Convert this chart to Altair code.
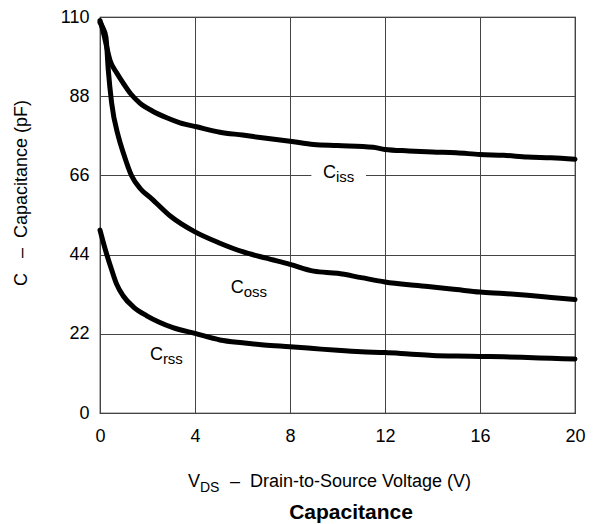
import altair as alt
import pandas as pd

FONT = "Liberation Sans"
NB = "\u00a0"

ciss_v = [0, 0.1, 0.21, 0.42, 0.7, 0.98, 1.3, 1.68, 2.2, 2.81, 3.37, 4.07, 5.05, 6, 7, 8, 9, 10, 11.5, 12, 13, 14, 15, 16, 17, 18, 19, 20]
ciss_c = [109, 106.8, 103.8, 98, 94.5, 91.6, 88.6, 86.1, 83.9, 82.0, 80.6, 79.5, 78.0, 77.2, 76.3, 75.5, 74.6, 74.3, 73.8, 73.2, 72.8, 72.5, 72.3, 71.8, 71.6, 71.1, 70.9, 70.5]

coss_v = [0, 0.12, 0.25, 0.35, 0.49, 0.77, 0.98, 1.33, 1.7, 2.18, 3, 4, 5, 6, 7, 8, 9, 10, 11, 12, 13, 14, 15, 16, 17, 18, 19, 20]
coss_c = [108.5, 107, 104.4, 95.2, 86.1, 76.9, 72.3, 65.9, 62.3, 59.5, 54.5, 50.3, 47.3, 44.8, 43.0, 41.3, 39.4, 38.8, 37.6, 36.4, 35.6, 35.0, 34.3, 33.6, 33.2, 32.7, 32.1, 31.5]

crss_v = [0, 0.25, 0.49, 0.7, 0.98, 1.4, 1.97, 2.5, 3.07, 4, 5.05, 6, 6.9, 8, 9, 10, 11, 12, 13, 14, 15, 16, 17, 18, 19, 20]
crss_c = [50.8, 44.8, 39.8, 35.8, 32.5, 29.5, 27.0, 25.2, 23.7, 22.1, 20.3, 19.5, 18.9, 18.4, 17.9, 17.4, 17.0, 16.8, 16.4, 16.0, 15.8, 15.7, 15.6, 15.4, 15.2, 15.0]

x_ticks = [0, 4, 8, 12, 16, 20]
y_ticks = [0, 22, 44, 66, 88, 110]

rows = []
for name, vs, cs in [("Ciss", ciss_v, ciss_c), ("Coss", coss_v, coss_c), ("Crss", crss_v, crss_c)]:
    for v, c in zip(vs, cs):
        rows.append({"series": name, "V": v, "C": c})
df = pd.DataFrame(rows)

xscale = alt.Scale(domain=[0, 20], nice=False, zero=False)
yscale = alt.Scale(domain=[0, 110], nice=False, zero=False)

x_enc = alt.X("V:Q", scale=xscale, title=None,
              axis=alt.Axis(values=x_ticks, grid=True, gridColor="#444", gridWidth=1,
                            ticks=False, domain=False, labelFont=FONT, labelFontSize=18,
                            labelColor="black", labelPadding=14, labelFlush=False))
y_enc = alt.Y("C:Q", scale=yscale, title=None,
              axis=alt.Axis(values=y_ticks, grid=True, gridColor="#444", gridWidth=1,
                            ticks=False, domain=False, labelFont=FONT, labelFontSize=18,
                            labelColor="black", labelPadding=11, labelFlush=False))

lines = alt.Chart(df).mark_line(color="black", strokeWidth=5, strokeCap="round",
                                strokeJoin="round", interpolate="monotone").encode(
    x=x_enc, y=y_enc, detail="series:N")

one = pd.DataFrame({"k": [0]})

gap = alt.Chart(one).mark_rect(color="white").encode(
    x=alt.X(datum=8.9, type="quantitative", scale=xscale),
    x2=alt.X2(datum=11.2),
    y=alt.Y(datum=63.8, type="quantitative", scale=yscale),
    y2=alt.Y2(datum=68.0),
)

labels = [("C", "iss", 9.39, 65.2), ("C", "oss", 5.5, 33.4), ("C", "rss", 2.1, 14.6)]
label_layers = []
for main, sub, lx, ly in labels:
    label_layers.append(alt.Chart(one).mark_text(
        text=main, font=FONT, fontSize=18, align="left", baseline="alphabetic", color="black").encode(
        x=alt.X(datum=lx, type="quantitative", scale=xscale),
        y=alt.Y(datum=ly, type="quantitative", scale=yscale)))
    label_layers.append(alt.Chart(one).mark_text(
        text=sub, font=FONT, fontSize=15, align="left", baseline="alphabetic", color="black",
        dx=13, dy=4).encode(
        x=alt.X(datum=lx, type="quantitative", scale=xscale),
        y=alt.Y(datum=ly, type="quantitative", scale=yscale)))

# axis titles and chart title drawn as text (subscripts)
xt1 = alt.Chart(one).mark_text(text="V", font=FONT, fontSize=18, align="left",
                               baseline="alphabetic", color="black").encode(
    x=alt.value(88), y=alt.value(470))
xt2 = alt.Chart(one).mark_text(text="DS", font=FONT, fontSize=14, align="left",
                               baseline="alphabetic", color="black").encode(
    x=alt.value(100), y=alt.value(475))
xt3 = alt.Chart(one).mark_text(text="–" + NB + NB + "Drain-to-Source Voltage (V)", font=FONT, fontSize=18,
                               align="left", baseline="alphabetic", color="black").encode(
    x=alt.value(130), y=alt.value(470))
yt = alt.Chart(one).mark_text(text="C" + NB + NB + NB + "–" + NB + NB + "Capacitance (pF)", font=FONT, fontSize=18,
                              align="center", baseline="alphabetic", angle=270,
                              color="black").encode(
    x=alt.value(-73), y=alt.value(176))
title = alt.Chart(one).mark_text(text="Capacitance", font=FONT, fontSize=21, fontWeight="bold",
                                 align="center", baseline="alphabetic", color="black").encode(
    x=alt.value(251), y=alt.value(502))

chart = alt.layer(gap, lines, *label_layers, xt1, xt2, xt3, yt, title).properties(
    width=475, height=396,
    autosize=alt.AutoSizeParams(type="none"),
    padding={"left": 92, "top": 9, "right": 17, "bottom": 111},
    background="white",
).configure_view(stroke="black", strokeWidth=1.2)

chart.save("out.html", embed_options={"renderer": "svg", "actions": False})
